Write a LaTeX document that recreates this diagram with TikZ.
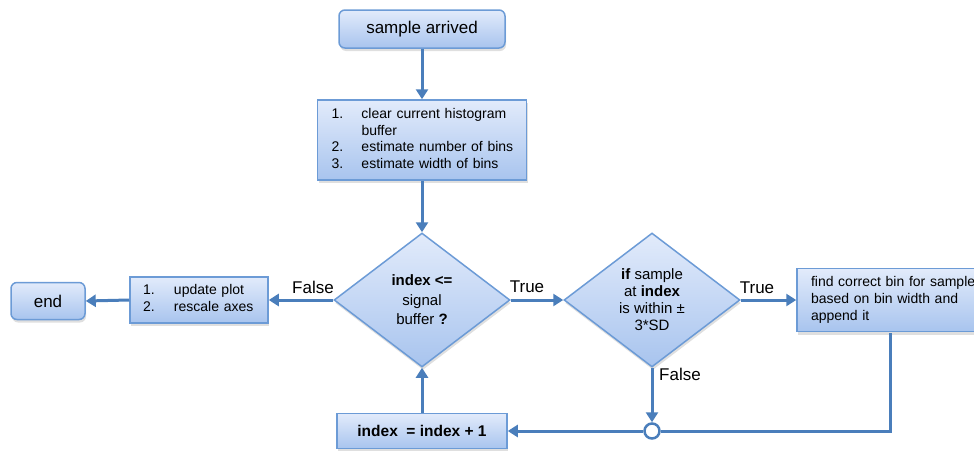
\documentclass[tikz,border=0pt]{standalone}
\usepackage{fontspec}
\setmainfont{Liberation Sans}
\usetikzlibrary{arrows.meta,shapes.geometric,shadows}

\definecolor{flowline}{HTML}{4A7EBB}
\definecolor{boxedge}{HTML}{6C9BD6}
\definecolor{boxtop}{HTML}{E2EBFB}
\definecolor{boxbot}{HTML}{A8C4EE}

\begin{document}
\begin{tikzpicture}[x=1pt,y=-1pt,
  shaded/.style={draw=boxedge, line width=1.5pt, top color=boxtop, bottom color=boxbot,
    drop shadow={opacity=0.25, shadow xshift=1pt, shadow yshift=-3pt}},
  rbox/.style={shaded, rounded corners=6pt, inner sep=0pt,
    font=\fontsize{17}{20}\selectfont},
  sbox/.style={shaded, inner ysep=0pt, align=left},
  decision/.style={shaded, diamond, aspect=1.31, inner sep=0pt, align=center,
    minimum width=176pt, minimum height=134pt},
  arr/.style={draw=flowline, line width=3pt, -{Triangle[length=10pt,width=12pt]}},
  link/.style={draw=flowline, line width=3pt},
  lbl/.style={font=\fontsize{17}{20}\selectfont, inner sep=0pt},
]
\useasboundingbox (0,0) rectangle (974,450);

% process boxes
\node[rbox, minimum width=166pt, minimum height=38pt] (sa) at (422,29) {sample arrived};

\node[sbox, minimum width=209pt, minimum height=80pt, inner xsep=14pt, text width=181pt,
  font=\fontsize{14}{16.5}\selectfont] (list) at (422,140)
  {\begin{tabular}{@{}p{30pt}@{}l@{}}1.&clear current histogram\\&buffer\\
   2.&estimate number of bins\\3.&estimate width of bins\end{tabular}};

\node[decision, font=\fontsize{15}{19.5}\selectfont] (d1) at (422,300)
  {\textbf{index <=}\\signal\\buffer \textbf{?}};

\node[decision, font=\fontsize{15}{17}\selectfont] (d2) at (652,300)
  {\textbf{if} sample\\at \textbf{index}\\is within ±\\3*SD};

% wide box running past the right edge
\node[sbox, minimum height=63pt, inner xsep=14pt, text width=176pt,
  font=\fontsize{14}{17}\selectfont] (bin) at (899,300)
  {find correct bin for sample\\based on bin width and\\append it};

\node[sbox, minimum width=138pt, minimum height=46pt, inner xsep=13pt, text width=112pt,
  font=\fontsize{14}{17}\selectfont] (upd) at (199,300)
  {\begin{tabular}{@{}p{31pt}@{}l@{}}1.&update plot\\2.&rescale axes\end{tabular}};

\node[rbox, minimum width=74pt, minimum height=37pt] (end) at (48,301) {end};

\node[sbox, minimum width=170pt, minimum height=35pt, align=center,
  font=\fontsize{15.5}{18}\selectfont\bfseries] (inc) at (422,431) {index\ \ = index + 1};

\node[circle, draw=flowline, line width=2.5pt, fill=white, minimum size=15pt,
  inner sep=0pt] (junc) at (652,431) {};

\coordinate (binout) at (890,333);

% connectors
\draw[arr] (sa) -- (list);
\draw[arr] (list) -- (d1);
\draw[arr] (d1.west) -- (upd.east);
\draw[arr] (upd.west) -- (end.east);
\draw[arr] (d1.east) -- (d2.west);
\draw[arr] (d2.east) -- (bin.west);
\draw[arr] (d2.south) -- (junc.north);
\draw[link] (binout) |- (junc.east);
\draw[arr] (junc.west) -- (inc.east);
\draw[arr] (inc.north) -- (d1.south);

% branch labels
\node[lbl] (f1) at (313,287) {False};
\node[lbl] (t1) at (527,287) {True};
\node[lbl] (t2) at (757,288) {True};
\node[lbl] (f2) at (680,374) {False};
\end{tikzpicture}
\end{document}
